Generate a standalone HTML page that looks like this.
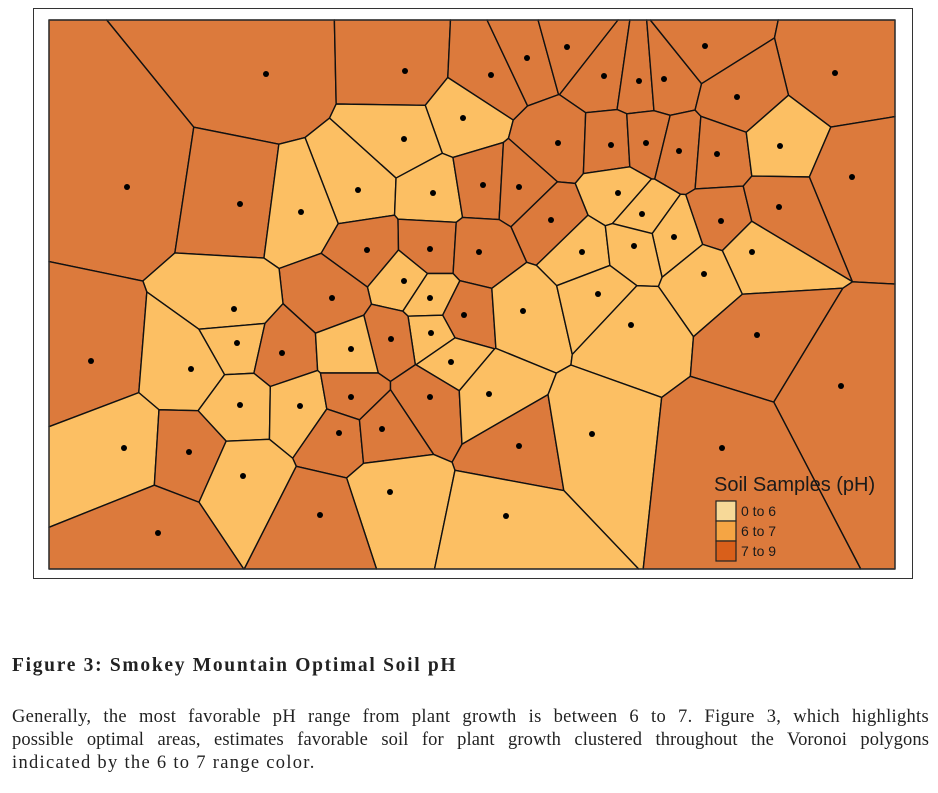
<!DOCTYPE html>
<html><head><meta charset="utf-8">
<style>
body{margin:0;width:938px;height:793px;background:#fff;position:relative;overflow:hidden;font-family:"Liberation Serif",serif;color:#222}
#frame{position:absolute;left:33px;top:8px;width:880px;height:571px;border:1px solid #333;box-sizing:border-box}
svg{position:absolute;left:0;top:0}
#cap{position:absolute;left:12px;top:655px;font-weight:bold;font-size:19.5px;letter-spacing:1.7px;white-space:nowrap}
#para{position:absolute;left:12px;top:706px;width:917px;font-size:18.5px;line-height:23px;letter-spacing:0.6px}
.j2{display:block;text-align:justify;text-align-last:justify}
</style></head><body>
<div id="frame"></div>
<svg id="map" width="938" height="793"></svg>
<div id="cap">Figure 3: Smokey Mountain Optimal Soil pH</div>
<div id="para"><span class="j2" style="letter-spacing:0.3px">Generally, the most favorable pH range from plant growth is between 6 to 7. Figure 3, which highlights</span><span class="j2" style="letter-spacing:0.1px">possible optimal areas, estimates favorable soil for plant growth clustered throughout the Voronoi polygons</span><span style="letter-spacing:1.3px">indicated by the 6 to 7 range color.</span></div>
<script>
const sampleX=[266,405,491,527,567,604,639,664,705,835,737,463,404,558,611,646,679,717,780,852,127,240,358,433,483,519,301,618,642,551,674,721,779,367,430,479,582,634,752,704,404,430,332,234,464,523,598,631,431,391,237,282,351,451,91,191,757,841,240,300,351,430,489,339,382,519,592,124,189,722,243,390,320,506,158];
const sampleY=[74,71,75,58,47,76,81,79,46,73,97,118,139,143,145,143,151,154,146,177,187,204,190,193,185,187,212,193,214,220,237,221,207,250,249,252,252,246,252,274,281,298,298,309,315,311,294,325,333,339,343,353,349,362,361,369,335,386,405,406,397,397,394,433,429,446,434,448,452,448,476,492,515,516,533];
const sampleClass=[2,2,2,2,2,2,2,2,2,2,2,1,1,2,2,2,2,2,1,2,2,2,1,1,2,2,1,1,1,2,1,2,2,2,2,2,1,1,1,1,1,1,2,1,2,1,1,1,1,2,1,2,1,1,2,1,2,2,1,1,2,2,1,2,2,2,1,1,2,2,1,1,2,1,2];
const legendLabels=["0 to 6","6 to 7","7 to 9"];
const fills=["#F7D998","#FCBF63","#DC7A3C"];
const legendFills=["#F7D998","#F5A544","#D95F1A"];
const X0=49,Y0=20,X1=895,Y1=569;
const NS="http://www.w3.org/2000/svg";
const svg=document.getElementById('map');
function clip(poly,px,py,qx,qy){
  const mx=(px+qx)/2,my=(py+qy)/2,dx=qx-px,dy=qy-py;
  const f=(pt)=>(pt[0]-mx)*dx+(pt[1]-my)*dy;
  const out=[];
  for(let i=0;i<poly.length;i++){
    const a=poly[i],b=poly[(i+1)%poly.length],fa=f(a),fb=f(b);
    if(fa<=0)out.push(a);
    if((fa<0&&fb>0)||(fa>0&&fb<0)){const t=fa/(fa-fb);out.push([a[0]+t*(b[0]-a[0]),a[1]+t*(b[1]-a[1])]);}
  }
  return out;
}
const gCells=document.createElementNS(NS,'g');


svg.appendChild(gCells);
for(let i=0;i<sampleX.length;i++){
  let poly=[[X0,Y0],[X1,Y0],[X1,Y1],[X0,Y1]];
  for(let j=0;j<sampleX.length;j++){if(j!==i&&poly.length)poly=clip(poly,sampleX[i],sampleY[i],sampleX[j],sampleY[j]);}
  const p=document.createElementNS(NS,'polygon');
  p.setAttribute('points',poly.map(v=>v[0].toFixed(2)+','+v[1].toFixed(2)).join(' '));
  p.setAttribute('fill',fills[sampleClass[i]]);
  p.setAttribute('stroke','#111');
  p.setAttribute('stroke-width','1.4');
  p.setAttribute('stroke-linejoin','round');
  
  
  gCells.appendChild(p);
}
for(let i=0;i<sampleX.length;i++){
  const c=document.createElementNS(NS,'circle');
  c.setAttribute('cx',sampleX[i]);c.setAttribute('cy',sampleY[i]);c.setAttribute('r','3');c.setAttribute('fill','#000');
  
  
  svg.appendChild(c);
}
const b=document.createElementNS(NS,'rect');
b.setAttribute('x',X0);b.setAttribute('y',Y0);b.setAttribute('width',X1-X0);b.setAttribute('height',Y1-Y0);
b.setAttribute('fill','none');b.setAttribute('stroke','#333');b.setAttribute('stroke-width','1.2');


svg.appendChild(b);
const t=document.createElementNS(NS,'text');
t.setAttribute('x','714');t.setAttribute('y','491');t.setAttribute('font-size','20');
t.setAttribute('font-family','Liberation Sans, sans-serif');t.setAttribute('fill','#1a1a1a');
t.textContent='Soil Samples (pH)';


svg.appendChild(t);
for(let k=0;k<legendLabels.length;k++){
  const r=document.createElementNS(NS,'rect');
  r.setAttribute('x','716');r.setAttribute('y',501+k*20);r.setAttribute('width','20');r.setAttribute('height','20');
  r.setAttribute('fill',legendFills[k]);r.setAttribute('stroke','#222');r.setAttribute('stroke-width','1.2');
  
  
  svg.appendChild(r);
  const lt=document.createElementNS(NS,'text');
  lt.setAttribute('x','741');lt.setAttribute('y',516+k*20);lt.setAttribute('font-size','14');
  lt.setAttribute('font-family','Liberation Sans, sans-serif');lt.setAttribute('fill','#1a1a1a');
  lt.textContent=legendLabels[k];
  
  
  svg.appendChild(lt);
}
</script>
</body></html>
